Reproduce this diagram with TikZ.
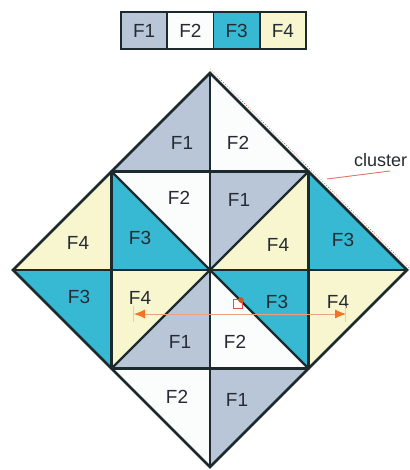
\documentclass[tikz,border=0pt]{standalone}
\usepackage{fontspec}
\setmainfont{Liberation Sans}
\usetikzlibrary{arrows.meta}
\definecolor{fone}{HTML}{B8C6D8}
\definecolor{ftwo}{HTML}{FBFDFC}
\definecolor{fthree}{HTML}{38B9D3}
\definecolor{ffour}{HTML}{F8F6CF}
\definecolor{edgec}{HTML}{1C2A2E}
\definecolor{ink}{HTML}{262B33}
\definecolor{markc}{HTML}{E0503C}
\definecolor{arrowc}{HTML}{F07428}
\definecolor{arrowl}{HTML}{EDA07C}
\tikzset{
  lbl/.style={font=\fontsize{19}{22}\selectfont, text=ink, inner sep=0pt},
  gridline/.style={draw=edgec, line width=2.3pt, line cap=round, line join=round},
  outline/.style={draw=edgec, line width=2.8pt, line join=miter},
  keybox/.style={lbl, draw=edgec, line width=1.8pt, minimum width=46.25pt,
                 minimum height=37pt, inner sep=0pt},
  halo/.style={draw=markc, line width=0.7pt, dotted},
  pointer/.style={draw=markc!80, line width=0.9pt},
  span/.style={draw=arrowl, line width=0.8pt,
               {Latex[length=11pt,width=9pt,color=arrowc]}-{Latex[length=11pt,width=9pt,color=arrowc]}},
  endtick/.style={draw=arrowl!60, line width=0.8pt},
}
\begin{document}
\begin{tikzpicture}[x=1pt,y=-1pt]
\useasboundingbox (0,0) rectangle (409,470);
\clip (0,0) rectangle (409,470);

% corner points of the diamond and of the inner square
\coordinate (T) at (210,73);
\coordinate (B) at (210,467);
\coordinate (L) at (13,270);
\coordinate (R) at (407,270);
\coordinate (C) at (210,270);
\coordinate (A1) at (111.5,171.5);
\coordinate (A2) at (308.5,171.5);
\coordinate (A3) at (308.5,368.5);
\coordinate (A4) at (111.5,368.5);
\coordinate (MT) at (210,171.5);
\coordinate (MB) at (210,368.5);
\coordinate (ML) at (111.5,270);
\coordinate (MR) at (308.5,270);

% triangular cells
\fill[fone]   (A1) -- (T) -- (MT) -- cycle;
\fill[ftwo]   (MT) -- (T) -- (A2) -- cycle;
\fill[ftwo]   (A1) -- (MT) -- (C) -- cycle;
\fill[fthree] (A1) -- (ML) -- (C) -- cycle;
\fill[fone]   (MT) -- (A2) -- (C) -- cycle;
\fill[ffour]  (A2) -- (MR) -- (C) -- cycle;
\fill[ffour]  (ML) -- (C) -- (A4) -- cycle;
\fill[fone]   (C) -- (MB) -- (A4) -- cycle;
\fill[fthree] (C) -- (MR) -- (A3) -- cycle;
\fill[ftwo]   (C) -- (MB) -- (A3) -- cycle;
\fill[ffour]  (L) -- (A1) -- (ML) -- cycle;
\fill[fthree] (L) -- (ML) -- (A4) -- cycle;
\fill[fthree] (A2) -- (R) -- (MR) -- cycle;
\fill[ffour]  (MR) -- (R) -- (A3) -- cycle;
\fill[ftwo]   (A4) -- (MB) -- (B) -- cycle;
\fill[fone]   (MB) -- (B) -- (A3) -- cycle;

% cell borders
\draw[gridline] (T) -- (B);
\draw[gridline] (L) -- (R);
\draw[gridline] (A1) -- (A2);
\draw[gridline] (A4) -- (A3);
\draw[gridline] (A1) -- (A4);
\draw[gridline] (A2) -- (A3);
\draw[gridline] (A1) -- (A3);
\draw[gridline] (A2) -- (A4);
\draw[outline] (T) -- (R) -- (B) -- (L) -- cycle;

% cluster boundary along the upper right side
\coordinate (Th) at (210,68.8);
\coordinate (Rh) at (411.2,270);
\draw[halo] (Th) -- (Rh);

% legend
\node[keybox, fill=fone]   (k1) at (144.1,30.5) {F1};
\node[keybox, fill=ftwo]   (k2) at (190.4,30.5) {F2};
\node[keybox, fill=fthree] (k3) at (236.6,30.5) {F3};
\node[keybox, fill=ffour]  (k4) at (282.9,30.5) {F4};

% cell labels
\node[lbl] (c1)  at (182,143) {F1};
\node[lbl] (c2)  at (238,143) {F2};
\node[lbl] (c3)  at (179,198) {F2};
\node[lbl] (c4)  at (239,200) {F1};
\node[lbl] (c5)  at (140,238) {F3};
\node[lbl] (c6)  at (78,243)  {F4};
\node[lbl] (c7)  at (278,245) {F4};
\node[lbl] (c8)  at (343,240) {F3};
\node[lbl] (c9)  at (79,297)  {F3};
\node[lbl] (c10) at (140,298) {F4};
\node[lbl] (c11) at (277,302) {F3};
\node[lbl] (c12) at (338,302) {F4};
\node[lbl] (c13) at (180,342) {F1};
\node[lbl] (c14) at (235,342) {F2};
\node[lbl] (c15) at (177,397) {F2};
\node[lbl] (c16) at (237,400) {F1};

% cluster callout
\node[lbl, font=\fontsize{18}{22}\selectfont, anchor=west] (cl) at (354,160) {cluster};
\coordinate (clfoot) at (390,171);
\coordinate (cledge) at (327,179);
\draw[pointer] (clfoot) -- (cledge);

% distance arrow with end ticks
\coordinate (ha) at (134,314);
\coordinate (hb) at (346,314);
\draw[span] (ha) -- (hb);
\coordinate (hat) at (133,306);
\coordinate (hab) at (133,322);
\coordinate (hbt) at (345,306);
\coordinate (hbb) at (345,322);
\draw[endtick] (hat) -- (hab);
\draw[endtick] (hbt) -- (hbb);

% marked point
\node[draw=markc, line width=1pt, minimum size=9pt, inner sep=0pt] (dm) at (238,304) {};
\node[circle, draw=markc, fill=arrowc!80!black, line width=0.6pt, minimum size=5pt, inner sep=0pt] (dc) at (241,300) {};
\end{tikzpicture}
\end{document}
